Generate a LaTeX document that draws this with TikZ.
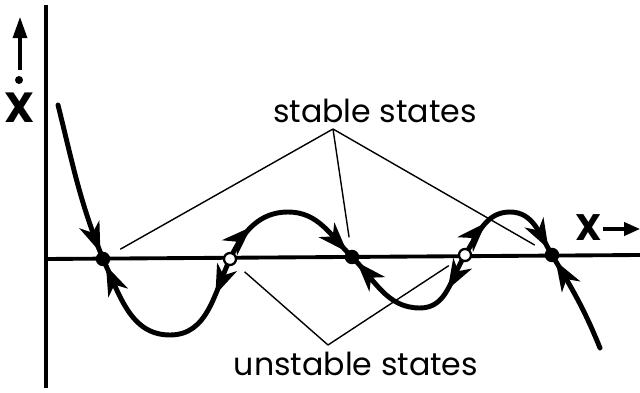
\documentclass[tikz,border=0pt]{standalone}
\usepackage{fontspec}
\newfontfamily\lblfont{Poppins}
\usetikzlibrary{arrows.meta,decorations.markings}
\tikzset{flowtip/.tip={Stealth[length=17pt,width=12pt,inset=5pt]}}

\begin{document}
\begin{tikzpicture}[x=0.2mm,y=0.2mm,
  traj/.style={line width=2.8pt,line cap=round},
  axis/.style={line width=2.5pt},
  ptr/.style={line width=0.8pt,shorten >=7pt},
  stab/.style={circle,fill=black,inner sep=0pt,minimum size=2.9mm},
  unst/.style={circle,draw=black,fill=white,line width=1.3pt,inner sep=0pt,minimum size=2.4mm},
  lbl/.style={font=\lblfont\fontsize{18}{20}\selectfont},
  varlbl/.style={font=\lblfont\bfseries\fontsize{24}{26}\selectfont,inner sep=0pt},
  lblarrow/.style={line width=1.8pt,-{Triangle[length=12pt,width=8pt]}},
  inflow/.style={postaction={decorate,decoration={markings,
    mark=at position -4pt with {\arrow{flowtip}}}}},
  flow/.style={postaction={decorate,decoration={markings,
    mark=at position 22pt with {\arrow{flowtip}},
    mark=at position -4pt with {\arrow{flowtip}}}}}]
\useasboundingbox (0,0) rectangle (640,393);
% axes
\draw[axis] (46,5) -- (46,388);
\draw[axis,line width=2.2pt] (46,134) -- (640,138);
% fixed points
\coordinate (p1) at (103,134);
\coordinate (q1) at (230,134);
\coordinate (p2) at (352,136);
\coordinate (q2) at (465,138);
\coordinate (p3) at (552,138);
% trajectory, each piece in the direction of flow
\draw[traj,inflow] (58,288) to[out=-76,in=112] (p1);
\draw[traj,flow] (q1) to[out=-115,in=0] (170,58) to[out=180,in=-65] (p1);
\draw[traj,flow] (q1) to[out=65,in=180] (288,181) to[out=0,in=135] (p2);
\draw[traj,flow] (q2) to[out=-122,in=0] (420,85) to[out=180,in=-45] (p2);
\draw[traj,flow] (q2) to[out=58,in=180] (510,181) to[out=0,in=121] (p3);
\draw[traj,inflow] (600,45) to[out=112,in=-59] (p3);
\node[stab] (s1) at (p1) {};
\node[stab] (s2) at (p2) {};
\node[stab] (s3) at (p3) {};
\node[unst] (u1) at (q1) {};
\node[unst] (u2) at (q2) {};
% labels
\node[lbl,anchor=base] (stable) at (375,270) {stable states};
\node[lbl,anchor=base] (unstable) at (356,17) {unstable states};
\coordinate (sa) at (333,264);
\coordinate (ua) at (328,48);
\foreach \n in {s1,s2,s3} \draw[ptr] (sa) -- (\n);
\foreach \n in {u1,u2} \draw[ptr] (ua) -- (\n);
% axis names
\node[varlbl,anchor=base] (xdot) at (19.5,270) {X};
\fill (19,313) circle (4);
\coordinate (ya) at (20,323);
\coordinate (yb) at (20,376);
\draw[lblarrow] (ya) -- (yb);
\node[varlbl,anchor=base,font=\lblfont\bfseries\fontsize{21}{23}\selectfont] (xr) at (589,152) {X};
\coordinate (xa) at (603,164);
\coordinate (xb) at (640,164);
\draw[lblarrow,-{Triangle[length=9pt,width=7.5pt]}] (xa) -- (xb);
\end{tikzpicture}
\end{document}
